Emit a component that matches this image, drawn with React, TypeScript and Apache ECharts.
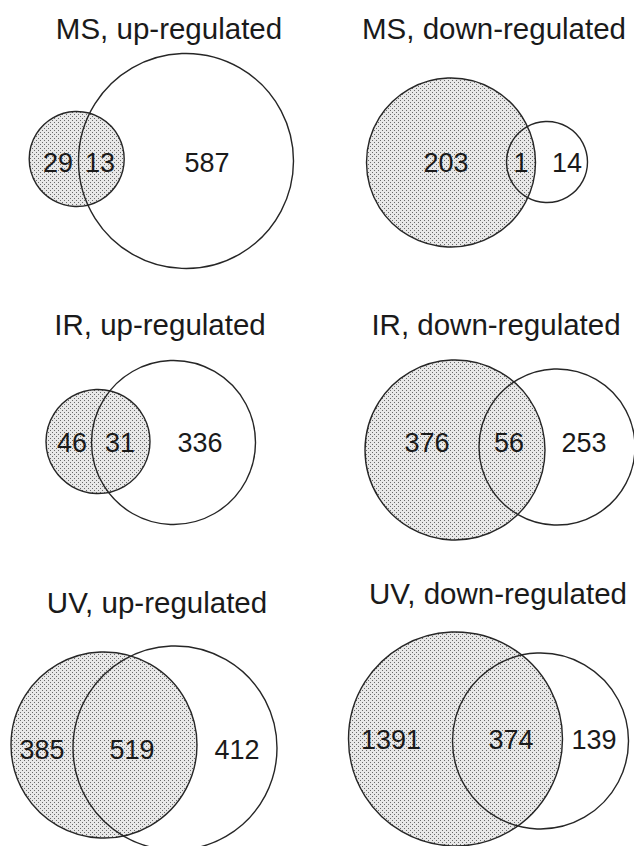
import React, { useEffect, useRef } from 'react';
import * as echarts from 'echarts';

// ---- data ----
const panelTitles = [
  'MS, up-regulated',
  'MS, down-regulated',
  'IR, up-regulated',
  'IR, down-regulated',
  'UV, up-regulated',
  'UV, down-regulated',
];
const onlyShaded = [29, 203, 46, 376, 385, 1391];
const shared = [13, 1, 31, 56, 519, 374];
const onlyPlain = [587, 14, 336, 253, 412, 139];

// ---- layout (panel-local axis units) ----
const shadedCircles = [
  [76.7, 159, 47.5],
  [134, 162.5, 84.5],
  [98, 159.5, 52],
  [138, 168, 90],
  [104, 181, 93],
  [138.5, 175, 107],
];
const plainCircles = [
  [186, 161, 107.5],
  [230, 162, 40.5],
  [173.5, 160.5, 82],
  [240, 165, 78],
  [175, 184, 102],
  [223.5, 177, 88],
];
const labelX = [
  [58, 100, 207],
  [129, 204, 250],
  [72, 120, 200],
  [110, 192, 267],
  [42, 132, 237],
  [74, 194, 277],
];
const labelY = [163, 163, 161, 161, 186, 176];
const titlePos = [
  [169, 28],
  [177, 28],
  [160, 42],
  [179, 42],
  [157, 38],
  [181, 29],
];

const PANEL_W = 317;
const PANEL_H = 282;
const FONT = "'Liberation Sans', Arial, Helvetica, sans-serif";

function makePattern() {
  const c = document.createElement('canvas');
  c.width = 4;
  c.height = 4;
  const ctx = c.getContext('2d')!;
  ctx.fillStyle = '#e8e8e8';
  ctx.fillRect(0, 0, 4, 4);
  ctx.fillStyle = '#6a6a6a';
  ctx.fillRect(0, 0, 1, 1);
  ctx.fillRect(2, 2, 1, 1);
  return { image: c, repeat: 'repeat', imageWidth: 4, imageHeight: 4 };
}

export default function App() {
  const ref = useRef<HTMLDivElement>(null);
  useEffect(() => {
    if (!ref.current) return;
    const chart = echarts.init(ref.current, null, { renderer: 'svg' });
    const pattern = makePattern();
    const grids: any[] = [];
    const xAxes: any[] = [];
    const yAxes: any[] = [];
    const series: any[] = [];
    panelTitles.forEach((title, i) => {
      const col = i % 2;
      const row = Math.floor(i / 2);
      grids.push({ left: col * PANEL_W, top: row * PANEL_H, width: PANEL_W, height: PANEL_H });
      xAxes.push({ type: 'value', gridIndex: i, min: 0, max: PANEL_W, show: false });
      yAxes.push({ type: 'value', gridIndex: i, min: 0, max: PANEL_H, inverse: true, show: false });
      series.push({
        type: 'custom',
        xAxisIndex: i,
        yAxisIndex: i,
        data: [
          [...shadedCircles[i], 1],
          [...plainCircles[i], 0],
        ],
        renderItem: (params: any, api: any) => {
          const c = api.coord([api.value(0), api.value(1)]);
          const s = api.size([api.value(2), 0]);
          const shaded = api.value(3) === 1;
          return {
            type: 'circle',
            shape: { cx: c[0], cy: c[1], r: s[0] },
            style: {
              fill: shaded ? pattern : 'none',
              stroke: '#262626',
              lineWidth: 1.4,
            },
          };
        },
      });
      const counts = [onlyShaded[i], shared[i], onlyPlain[i]];
      series.push({
        type: 'custom',
        xAxisIndex: i,
        yAxisIndex: i,
        data: counts.map((v, k) => [labelX[i][k], labelY[i], v]),
        renderItem: (params: any, api: any) => {
          const c = api.coord([api.value(0), api.value(1)]);
          return {
            type: 'text',
            x: c[0],
            y: c[1],
            style: {
              text: String(api.value(2)),
              fill: '#1a1a1a',
              fontSize: 27,
              fontFamily: FONT,
              align: 'center',
              verticalAlign: 'middle',
            },
          };
        },
      });
      series.push({
        type: 'custom',
        xAxisIndex: i,
        yAxisIndex: i,
        data: [titlePos[i]],
        renderItem: (params: any, api: any) => {
          const c = api.coord([api.value(0), api.value(1)]);
          return {
            type: 'text',
            x: c[0],
            y: c[1],
            style: {
              text: title,
              fill: '#1a1a1a',
              fontSize: 29.5,
              fontFamily: FONT,
              align: 'center',
              verticalAlign: 'middle',
            },
          };
        },
      });
    });
    chart.setOption({
      animation: false,
      backgroundColor: '#ffffff',
      grid: grids,
      xAxis: xAxes,
      yAxis: yAxes,
      series,
    });
    return () => chart.dispose();
  }, []);
  return (
    <div
      ref={ref}
      style={{ position: 'fixed', left: 0, top: 0, width: 634, height: 846, background: '#fff' }}
    />
  );
}
